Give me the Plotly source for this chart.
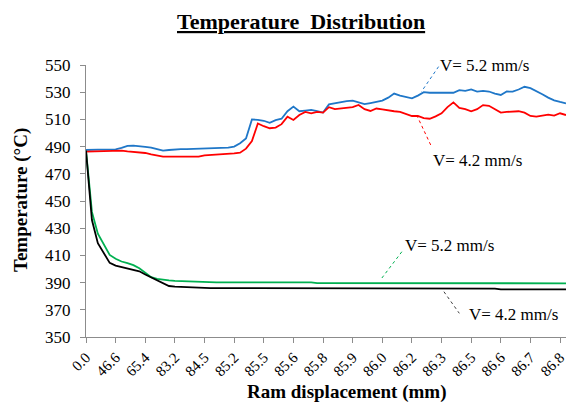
import plotly.graph_objects as go

# Category labels shown on the x axis (every 5th sample)
tick_labels = ["0.0", "46.6", "65.4", "83.2", "84.5", "85.2", "85.5", "85.6", "85.8",
               "85.9", "86.0", "86.2", "86.3", "86.5", "86.6", "86.7", "86.8"]

# Upper curves (blue: V=5.2 mm/s, red: V=4.2 mm/s)
blue_52 = [487.5, 487.8, 487.8, 487.8, 487.8, 488.0, 489.0, 490.5, 490.7, 490.5,
           489.8, 489.2, 488.0, 487.0, 487.5, 488.0, 488.2, 488.2, 488.3, 488.3,
           488.6, 488.8, 489.0, 489.1, 489.3, 490.0, 492.5, 496.0, 510.0, 509.6,
           509.0, 507.5, 509.5, 510.5, 516.0, 519.4, 516.0, 516.5, 517.0, 516.0,
           515.0, 521.0, 522.0, 523.0, 523.5, 523.8, 522.5, 521.2, 522.0, 523.0,
           523.8, 526.0, 529.0, 527.5, 526.5, 525.5, 527.5, 530.0, 529.6, 529.6,
           529.5, 529.6, 529.6, 531.5, 531.0, 532.0, 530.5, 531.0, 530.5, 529.0,
           528.0, 530.5, 530.4, 532.0, 534.0, 533.0, 531.0, 528.5, 526.0, 524.0,
           522.8, 521.8]
red_42 = [486.3, 486.5, 486.7, 486.8, 486.8, 487.0, 487.0, 486.5, 486.0, 486.0,
          485.3, 484.3, 483.5, 482.6, 482.6, 482.6, 482.6, 482.6, 482.6, 482.6,
          483.6, 483.8, 484.0, 484.3, 484.6, 485.0, 485.5, 488.5, 494.0, 507.0,
          505.0, 503.5, 504.0, 506.5, 512.0, 509.6, 513.2, 515.5, 514.5, 515.5,
          515.0, 519.0, 517.5, 518.0, 518.0, 519.0, 520.6, 517.5, 516.2, 518.0,
          517.4, 516.5, 516.0, 515.5, 514.0, 512.5, 512.5, 511.0, 510.5, 512.2,
          514.5, 519.0, 522.5, 518.5, 517.5, 516.0, 517.5, 520.5, 520.0, 517.5,
          515.0, 515.5, 515.8, 516.0, 515.0, 512.5, 512.0, 513.0, 513.5, 512.8,
          514.5, 513.2]
# Lower curves (green: V=5.2 mm/s, black: V=4.2 mm/s)
green_52 = [487.0, 442.0, 426.0, 418.0, 410.3, 407.5, 405.5, 404.3, 402.8, 400.5,
            397.5, 394.0, 392.8, 392.0, 391.6, 391.2, 391.0, 390.8, 390.6, 390.4,
            390.2, 390.2, 390.2, 390.2, 390.2, 390.2, 390.2, 390.2, 390.2, 390.2,
            390.2, 390.2, 390.2, 390.2, 390.2, 390.2, 390.2, 390.2, 390.2, 389.6,
            389.6, 389.6, 389.6, 389.6, 389.6, 389.6, 389.6, 389.6, 389.6, 389.6,
            389.6, 389.6, 389.6, 389.6, 389.6, 389.6, 389.6, 389.6, 389.6, 389.6,
            389.6, 389.6, 389.6, 389.6, 389.6, 389.6, 389.6, 389.6, 389.6, 389.6,
            389.6, 389.6, 389.6, 389.6, 389.6, 389.6, 389.6, 389.6, 389.6, 389.5,
            389.5, 389.5]
black_42 = [487.0, 436.0, 419.0, 412.0, 404.5, 402.5, 401.5, 400.5, 399.5, 398.3,
            396.0, 394.0, 392.0, 389.5, 387.5, 387.0, 386.8, 386.7, 386.2, 386.0,
            386.0, 386.0, 386.0, 386.0, 386.0, 386.0, 386.0, 386.0, 386.0, 386.0,
            385.6, 385.6, 385.6, 385.6, 385.6, 385.6, 385.6, 385.6, 385.6, 385.6,
            385.6, 385.6, 385.6, 385.6, 385.6, 385.6, 385.6, 385.6, 385.6, 385.6,
            385.6, 385.6, 385.6, 385.6, 385.6, 385.6, 385.6, 385.6, 385.6, 385.6,
            385.6, 385.6, 385.6, 385.6, 385.6, 385.6, 385.6, 385.6, 385.6, 385.6,
            385.0, 385.0, 385.0, 385.0, 385.0, 385.0, 385.0, 385.0, 385.0, 385.0,
            385.0, 385.0]

STEP = 5
idx = list(range(len(blue_52)))
tick_vals = [i * STEP for i in range(len(tick_labels))]

FONT = "Liberation Serif"
fig = go.Figure()
series = [(blue_52, "#1F77C8"), (red_42, "#FF0000"), (green_52, "#00B050"), (black_42, "#000000")]
for vals, col in series:
    fig.add_trace(go.Scatter(x=idx, y=vals, mode="lines",
                             line=dict(color=col, width=1.8), showlegend=False,
                             hoverinfo="skip"))

ax_col = "#8C8C8C"
fig.update_layout(
    width=567, height=404,
    margin=dict(l=86, r=1, t=65, b=67, autoexpand=False),
    paper_bgcolor="white", plot_bgcolor="white",
    font=dict(family=FONT, color="#000000", size=15),
    xaxis=dict(range=[0, len(idx) - 1], tickvals=tick_vals, ticktext=tick_labels,
               tickangle=-45, showgrid=False, zeroline=False, showline=True,
               automargin=False, ticklabeloverflow="allow",
               linecolor=ax_col, linewidth=1, ticks="outside", ticklen=5,
               tickcolor=ax_col, tickfont=dict(family=FONT, size=15)),
    yaxis=dict(range=[350, 550], dtick=20, tick0=350, showgrid=False, zeroline=False,
               automargin=False, ticklabelstandoff=6,
               showline=True, linecolor=ax_col, linewidth=1, ticks="outside",
               ticklen=5, tickcolor=ax_col, tickfont=dict(family=FONT, size=17)),
)

annots = [
    dict(text="<b><u>Temperature  Distribution</u></b>", x=301, y=22, size=22),
    dict(text="<b>Ram displacement (mm)</b>", x=346, y=392, size=19),
]
for a in annots:
    fig.add_annotation(text=a["text"], xref="paper", yref="paper",
                       x=(a["x"] - 86) / 480, y=1 - (a["y"] - 65) / 272,
                       xanchor="center", yanchor="middle", showarrow=False,
                       font=dict(family=FONT, size=a["size"], color="#000000"))
fig.add_annotation(text="<b>Temperature (°C)</b>", xref="paper", yref="paper",
                   x=(21 - 86) / 480, y=1 - (200 - 65) / 272, textangle=-90,
                   xanchor="center", yanchor="middle", showarrow=False,
                   font=dict(family=FONT, size=19, color="#000000"))

# Series labels with dotted leader lines (positions in data units)
labels = [
    ("V= 5.2 mm/s", 67.3, 549.5, (59.5, 548.8, 56.6, 530.4), "#1F77C8"),
    ("V= 4.2 mm/s", 66.0, 480.1, (55.8, 513.2, 58.3, 490.0), "#FF0000"),
    ("V= 5.2 mm/s", 61.4, 417.6, (53.3, 412.7, 49.9, 393.2), "#00B050"),
    ("V= 4.2 mm/s", 72.1, 366.9, (60.4, 383.3, 63.0, 367.4), "#404040"),
]
for txt, lx, ly, (x0, y0, x1, y1), col in labels:
    fig.add_annotation(text=txt, x=lx, y=ly, xref="x", yref="y", showarrow=False,
                       xanchor="center", yanchor="middle",
                       font=dict(family=FONT, size=17, color="#000000"))
    fig.add_shape(type="line", x0=x0, y0=y0, x1=x1, y1=y1, xref="x", yref="y",
                  line=dict(color=col, width=1, dash="dot"))

fig.write_html("out.html", config={"displayModeBar": False},
               post_script="document.body.style.margin='0';document.body.style.overflow='hidden';")
